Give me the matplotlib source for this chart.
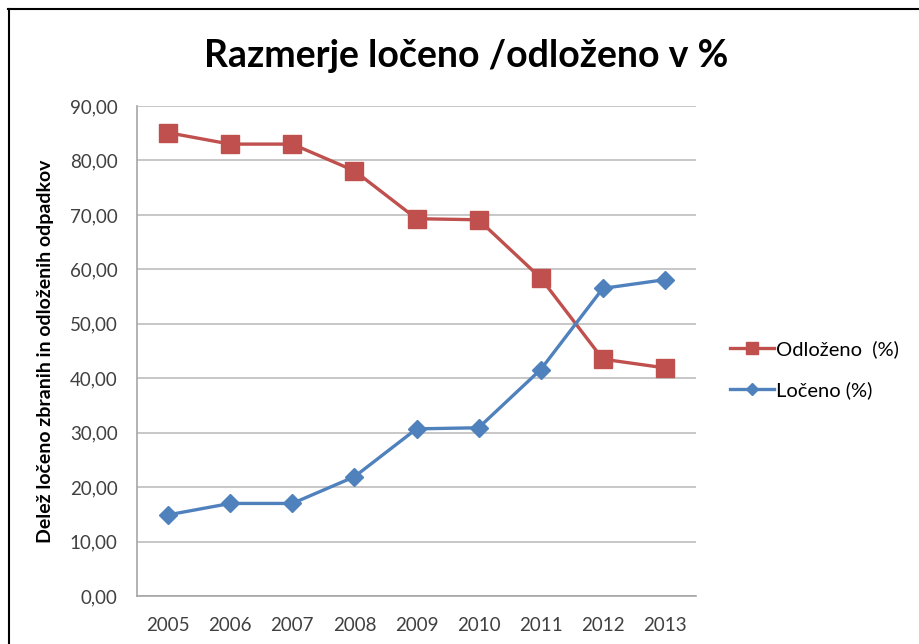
import matplotlib
matplotlib.use("Agg")
import matplotlib.pyplot as plt
from matplotlib.lines import Line2D
from matplotlib.ticker import FuncFormatter

years = ["2005", "2006", "2007", "2008", "2009", "2010", "2011", "2012", "2013"]
odlozeno = [85.1, 83.0, 83.0, 78.1, 69.3, 69.1, 58.4, 43.5, 41.9]
loceno = [14.9, 17.0, 17.0, 21.9, 30.7, 30.9, 41.6, 56.5, 58.1]

title = "Razmerje ločeno /odloženo v %"
ylabel = "Delež ločeno zbranih in odloženih odpadkov"
label_odl = "Odloženo  (%)"
label_loc = "Ločeno (%)"

RED = "#C0504D"
BLUE = "#4F81BD"
font = "Lato"

fig = plt.figure(figsize=(9.19, 6.44), dpi=100)
ax = fig.add_axes([137/919, 1-596/644, (696-137)/919, (596-106)/644])

x = list(range(len(years)))
ax.plot(x, odlozeno, color=RED, lw=2.4, marker="s", ms=12.5, label=label_odl, zorder=3)
ax.plot(x, loceno, color=BLUE, lw=2.4, marker="D", ms=9, label=label_loc, zorder=3)

ax.set_xlim(-0.5, len(years) - 0.5)
ax.set_ylim(0, 90)
ax.set_yticks(range(0, 91, 10))
ax.yaxis.set_major_formatter(FuncFormatter(lambda v, p: f"{v:.2f}".replace(".", ",")))
ax.set_xticks(x)
ax.set_xticklabels(years)
ax.grid(axis="y", color="#BEBEBE", lw=1.2)
ax.set_axisbelow(True)
for s in ["top", "right"]:
    ax.spines[s].set_visible(False)
for s in ["left", "bottom"]:
    ax.spines[s].set_color("#A6A6A6")
    ax.spines[s].set_linewidth(1.2)
ax.tick_params(length=0, labelsize=13.5, labelcolor="#404040")
ax.tick_params(axis="y", pad=14)
ax.tick_params(axis="x", pad=15)
for lab in ax.get_xticklabels() + ax.get_yticklabels():
    lab.set_family(font)

ax.set_ylabel(ylabel, fontsize=14, fontweight="bold", family=font)
ax.yaxis.set_label_coords((54 - 137) / (696 - 137), 0.5)

fig.text(466/919, 1-56/644, title, ha="center", va="center", fontsize=27,
         fontweight="bold", family=font)

leg = fig.legend(handles=ax.get_lines(), loc="upper left", bbox_to_anchor=(712/919, 1-322/644),
                 frameon=False, prop={"family": font, "size": 14.5},
                 handlelength=2.2, handletextpad=0.1, labelspacing=1.15, markerscale=0.7)

fig.add_artist(Line2D([8/919, 1], [1-9/644, 1-9/644], color="black", lw=1.5, transform=fig.transFigure))
fig.add_artist(Line2D([9/919, 9/919], [0, 1-9/644], color="black", lw=1.5, transform=fig.transFigure))

fig.savefig("out.png", dpi=100)
